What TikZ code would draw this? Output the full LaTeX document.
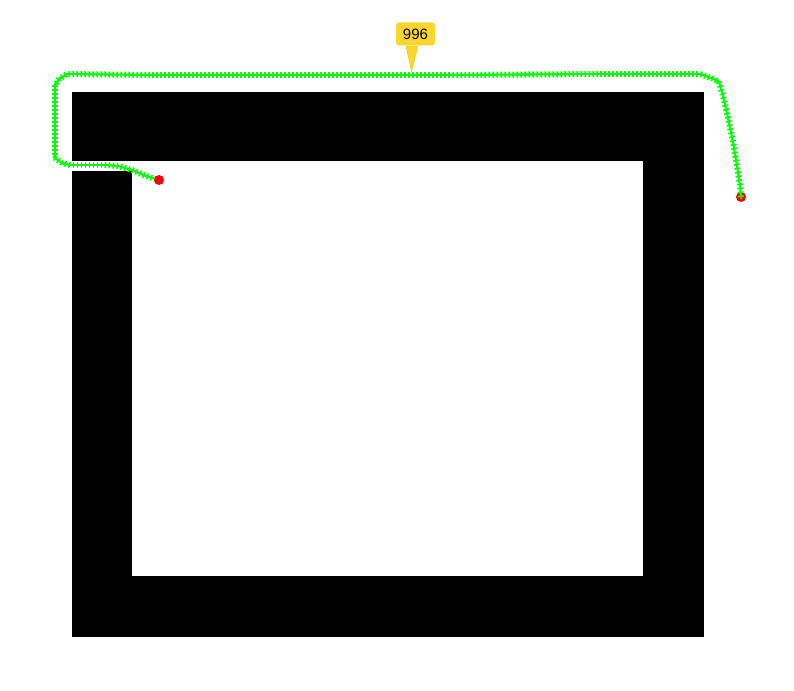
\documentclass[tikz,border=0pt]{standalone}
\usepackage{fontspec}
\setmainfont{Liberation Sans}
\usetikzlibrary{decorations.markings}
\definecolor{trackgreen}{RGB}{0,255,0}
\definecolor{dotred}{RGB}{255,0,0}
\definecolor{calloutyellow}{RGB}{250,214,45}
\tikzset{
  wall/.style={fill=black,draw=none},
  track/.style={draw=trackgreen,line width=1.6pt,
    postaction={decorate,decoration={markings,
      mark=between positions 0 and 1 step 4pt with {
        \draw[trackgreen,line width=1.6pt] (-3pt,0)--(3pt,0) (0,-3pt)--(0,3pt);}}}},
  reddot/.style={circle,fill=dotred,inner sep=0pt,minimum size=10pt},
  callout/.style={fill=calloutyellow,rounded corners=3pt,draw=none,inner sep=0pt,
    minimum width=39pt,minimum height=23pt,font=\fontsize{15}{18}\selectfont}
}
\begin{document}
\begin{tikzpicture}[x=1pt,y=-1pt]
\useasboundingbox (0,0) rectangle (794,690);
\fill[white] (0,0) rectangle (794,690);
% frame
\fill[wall] (72,92) rectangle (704,161);
\fill[wall] (643,92) rectangle (704,637);
\fill[wall] (72,576) rectangle (704,637);
\fill[wall] (72,171) rectangle (132,637);
% goal dot (under track)
\node[reddot] (goal) at (741,197) {};
\coordinate (start) at (159,180);
% track
\draw[track] (start) -- (146,176) -- (132,170) -- (118,166) -- (105,165)
  -- (70,165) -- (62,163) -- (55,158) -- (55,86) -- (59,79) -- (67,74)
  -- (150,75) -- (300,75) -- (450,75) -- (600,74) -- (700,74) -- (714,79)
  -- (719,82) -- (723,96) -- (728,118) -- (733,142) -- (737,166) -- (740,186)
  -- (goal.center);
% start dot (over track)
\node[reddot] (startdot) at (start) {};
% callout
\node[callout] (label) at (415.5,34) {996};
\coordinate (tip) at (411.5,73);
\fill[calloutyellow] ([xshift=-10pt]label.south) -- (tip) -- ([xshift=3pt]label.south) -- cycle;
\end{tikzpicture}
\end{document}
